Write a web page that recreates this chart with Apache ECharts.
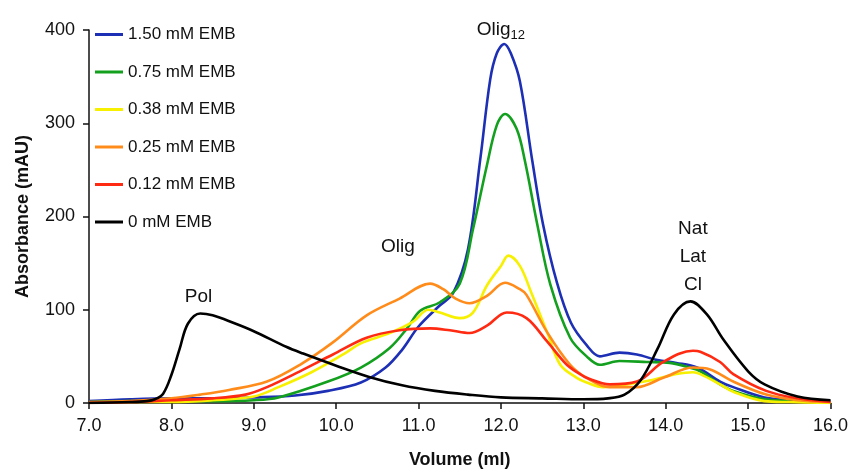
<!DOCTYPE html>
<html>
<head>
<meta charset="utf-8">
<script src="https://cdn.jsdelivr.net/npm/echarts@6/dist/echarts.min.js"></script>
<style>
  html, body { margin: 0; padding: 0; background: #fff; }
  #chart { width: 851px; height: 474px; }
</style>
</head>
<body>
<div id="chart"></div>
<script>
// elution volume (ml) and absorbance (mAU)
const blueX = [7.0,7.5,8.0,8.5,9.0,9.5,9.9,10.3,10.6,10.8,11.0,11.25,11.42,11.6,11.75,11.87,11.95,12.04,12.12,12.23,12.38,12.51,12.68,12.85,13.04,13.2,13.44,13.65,13.9,14.13,14.38,14.66,14.82,15.2,15.6,16.0];
const blueY = [2,4,5,5,6,8,13,22,38,57,82,104,118,165,262,347,375,385,375,345,260,192,129,86,62,50,54,52,46,43,38,23,17,6,3,2];

const greenX = [7.0,7.5,8.0,8.5,9.0,9.3,9.9,10.3,10.65,10.86,11.02,11.26,11.5,11.66,11.83,11.95,12.05,12.19,12.29,12.44,12.6,12.84,13.04,13.2,13.44,13.77,14.05,14.29,14.42,14.66,14.82,15.2,15.6,16.0];
const greenY = [1,2,2,2,3,6,23,38,59,80,99,108,128,186,255,298,310,294,260,192,127,70,50,41,45,44,43,38,34,20,13,4,2,1];

const yellowX = [7.0,7.5,8.0,8.5,9.0,9.3,9.7,10.1,10.3,10.65,10.93,11.12,11.26,11.5,11.66,11.83,12.0,12.09,12.23,12.37,12.56,12.72,12.92,13.04,13.24,13.53,13.85,14.13,14.33,14.42,14.66,14.82,15.2,15.5,16.0];
const yellowY = [0,1,1,3,7,17,33,53,64,75,87,100,97,91,97,126,147,158,147,118,76,41,27,22,17,20,25,31,33,31,20,12,2,1,0];

const orangeX = [7.0,7.5,8.0,8.35,8.7,9.16,9.56,9.96,10.37,10.77,11.14,11.3,11.45,11.62,11.83,12.05,12.23,12.31,12.56,12.84,13.04,13.32,13.65,13.97,14.33,14.54,14.82,15.22,15.6,16.0];
const orangeY = [1,2,5,9,14,23,41,65,94,112,128,122,112,107,115,129,122,116,76,41,27,17,17,27,38,36,23,9,3,1];

const redX = [7.0,7.5,8.0,8.5,8.9,9.16,9.56,9.96,10.37,10.77,11.14,11.38,11.62,11.83,12.07,12.31,12.56,12.8,12.96,13.04,13.32,13.65,13.97,14.33,14.42,14.66,14.82,15.22,15.6,16.0];
const redY = [0,1,3,5,9,17,34,52,70,78,80,78,75,83,97,91,66,41,31,27,20,23,44,56,55,44,31,13,5,1];

const blackX = [7.0,7.5,7.7,7.8,7.9,8.0,8.1,8.2,8.35,8.5,8.75,9.0,9.4,9.6,10.0,10.4,10.8,11.2,11.6,12.0,12.5,13.0,13.3,13.5,13.7,13.9,14.1,14.3,14.5,14.7,15.0,15.2,15.6,16.0];
const blackY = [0,1,2,4,10,30,58,85,96,94,86,77,60,53,40,28,19,13,9,6,5,4,5,9,25,58,95,109,95,68,34,20,7,3];

const seriesNames = ['1.50 mM EMB', '0.75 mM EMB', '0.38 mM EMB', '0.25 mM EMB', '0.12 mM EMB', '0 mM EMB'];
const seriesColors = ['#1c2fb5', '#13a01f', '#f7f000', '#ff8c1a', '#ff2a12', '#000000'];
const seriesX = [blueX, greenX, yellowX, orangeX, redX, blackX];
const seriesY = [blueY, greenY, yellowY, orangeY, redY, blackY];

// peak labels, placed in data coordinates
const peakLabels = [
  { text: '{a|Olig}{s|12}', at: [12.0, 399], dy: -1 },
  { text: 'Olig', at: [10.75, 168], dy: 0 },
  { text: 'Pol', at: [8.33, 119], dy: 5 },
  { text: 'Nat\nLat\nCl', at: [14.33, 162], dy: 5 }
];

const font = '"Liberation Sans", Arial, sans-serif';

const chart = echarts.init(document.getElementById('chart'));

const series = seriesNames.map((name, i) => ({
  name: name,
  type: 'line',
  smooth: 0.35,
  showSymbol: false,
  symbol: 'none',
  color: seriesColors[i],
  lineStyle: { width: 2.6, color: seriesColors[i] },
  z: i === 5 ? 3 : 2,
  data: seriesX[i].map((x, j) => [x, seriesY[i][j]])
}));

series[5].markPoint = {
  silent: true,
  symbol: 'circle',
  symbolSize: 0,
  data: peakLabels.map(p => ({
    coord: p.at,
    label: {
      show: true,
      position: 'inside',
      offset: [0, p.dy],
      formatter: p.text,
      color: '#111',
      fontFamily: font,
      fontSize: 19,
      lineHeight: 28,
      align: 'center',
      rich: {
        a: { fontSize: 19, fontFamily: font, color: '#111' },
        s: { fontSize: 13, fontFamily: font, color: '#111', padding: [11, 0, 0, 0] }
      }
    }
  }))
};

chart.setOption({
  backgroundColor: '#fff',
  animation: false,
  grid: { left: 89, right: 20, top: 30, bottom: 65 },
  legend: {
    orient: 'vertical',
    left: 90,
    top: 21,
    itemWidth: 28,
    itemHeight: 3,
    itemGap: 20.5,
    icon: 'rect',
    data: seriesNames,
    textStyle: { fontFamily: font, fontSize: 17, color: '#111' }
  },
  xAxis: {
    type: 'value',
    min: 7,
    max: 16,
    interval: 1,
    name: 'Volume (ml)',
    nameLocation: 'middle',
    nameGap: 48,
    nameTextStyle: { fontFamily: font, fontSize: 18, fontWeight: 'bold', color: '#111' },
    axisLine: { lineStyle: { color: '#111', width: 1.5 } },
    axisTick: { show: true, length: 6, lineStyle: { color: '#111', width: 1.5 } },
    axisLabel: { fontFamily: font, fontSize: 18, color: '#111', margin: 14, formatter: v => v.toFixed(1) },
    splitLine: { show: false }
  },
  yAxis: {
    type: 'value',
    min: 0,
    max: 400,
    interval: 100,
    name: 'Absorbance (mAU)',
    nameLocation: 'middle',
    nameGap: 57,
    nameTextStyle: { fontFamily: font, fontSize: 18, fontWeight: 'bold', color: '#111' },
    axisLine: { show: true, lineStyle: { color: '#111', width: 1.5 } },
    axisTick: { show: true, length: 6, lineStyle: { color: '#111', width: 1.5 } },
    axisLabel: { fontFamily: font, fontSize: 18, color: '#111', margin: 14 },
    splitLine: { show: false }
  },
  series: series
});
</script>
</body>
</html>
